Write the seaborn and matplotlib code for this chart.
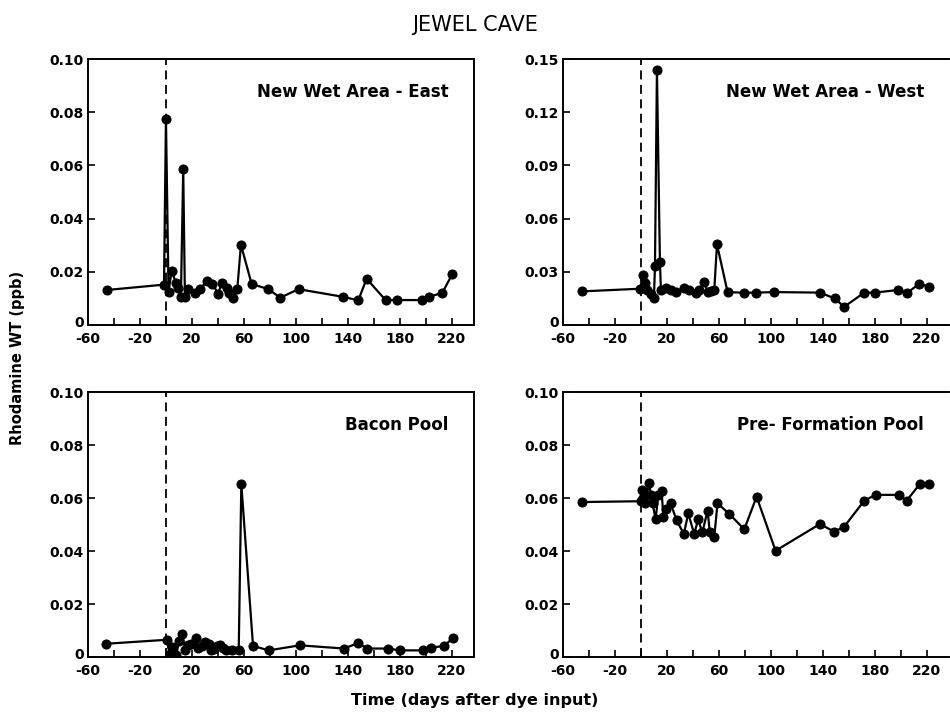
import numpy as np
import pandas as pd
import matplotlib
matplotlib.use("Agg")
import matplotlib.pyplot as plt
import matplotlib.transforms as mtrans
import seaborn as sns

# data (days after dye input, rhodamine WT in ppb)
east_days = [-45, -1.5, 0, 2, 4.4, 7.7, 9.5, 11.5, 13.3, 14.6, 17, 22.3, 26, 31.8, 35.6, 40.3,
             42.8, 46.7, 48.7, 51.8, 54.9, 57.7, 65.9, 78.7, 88, 102, 136.4, 148, 154.4, 169,
             178, 196.7, 202.3, 212.5, 220.3]
east_conc = [0.0132, 0.0152, 0.0775, 0.0125, 0.0205, 0.0158, 0.014, 0.0105, 0.0585, 0.0105,
             0.0136, 0.012, 0.0136, 0.0165, 0.0155, 0.0118, 0.0158, 0.0138, 0.0122, 0.0103,
             0.0136, 0.0302, 0.0155, 0.0135, 0.0103, 0.0135, 0.0106, 0.0093, 0.0174, 0.0094,
             0.0094, 0.0094, 0.0107, 0.012, 0.0191]

west_days = [-45, -0.5, 1.3, 3, 5, 7.7, 10, 10.8, 12.3, 14.6, 15.4, 19.2, 23, 27, 33.3, 37,
             42.3, 44.8, 48.7, 51.3, 53.9, 56.4, 58.5, 66.7, 79.5, 88.5, 102.6, 138, 149,
             156.4, 171.8, 180, 198, 204.6, 214, 221.8]
west_conc = [0.019, 0.0205, 0.028, 0.0235, 0.0195, 0.0175, 0.0155, 0.0335, 0.144, 0.0355,
             0.0195, 0.021, 0.0195, 0.0185, 0.021, 0.0195, 0.018, 0.0195, 0.0245, 0.0185,
             0.019, 0.0195, 0.0455, 0.0185, 0.0183, 0.0183, 0.0186, 0.0183, 0.015, 0.0103,
             0.0183, 0.0183, 0.0198, 0.018, 0.0232, 0.0217]

bacon_days = [-46, 0.5, 3, 5, 8, 10, 12.5, 15, 17, 19, 22.8, 25, 28, 30, 33.1, 35, 37, 39,
              41.5, 44, 46, 51, 56, 58, 67, 79, 103, 137, 148, 154.6, 171, 180, 197.6, 204,
              214, 220.5]
bacon_conc = [0.005, 0.0065, 0.0013, 0.0038, 0.0008, 0.006, 0.0088, 0.0025, 0.0045, 0.005,
              0.007, 0.0035, 0.004, 0.0058, 0.005, 0.0025, 0.003, 0.0042, 0.0045, 0.0035,
              0.0027, 0.0027, 0.0027, 0.0652, 0.0042, 0.0025, 0.0044, 0.0032, 0.0053, 0.0032,
              0.0032, 0.0025, 0.0025, 0.0035, 0.0042, 0.007]

pre_days = [-45.6, 0, 0.8, 1.7, 3.5, 6.2, 7.7, 8.9, 11.3, 13.3, 15.9, 17.2, 19, 22.8, 27.4,
            33, 36.4, 41, 44, 47.2, 51.3, 53, 56.4, 58.9, 68, 79.5, 89, 103.6, 137.7, 148.7,
            156.4, 171.8, 180.5, 198.7, 204.4, 214.6, 221.8]
pre_conc = [0.0585, 0.0588, 0.0632, 0.0602, 0.058, 0.0658, 0.0612, 0.058, 0.052, 0.061,
            0.0628, 0.053, 0.056, 0.058, 0.0517, 0.0464, 0.0542, 0.0464, 0.052, 0.047,
            0.0553, 0.047, 0.0452, 0.058, 0.054, 0.0482, 0.0605, 0.0401, 0.0502, 0.0473,
            0.0492, 0.059, 0.0612, 0.0612, 0.059, 0.0653, 0.0652]

panel_names = ["New Wet Area - East", "New Wet Area - West", "Bacon Pool", "Pre- Formation Pool"]
y_tops = [0.10, 0.15, 0.10, 0.10]
y_steps = [0.02, 0.03, 0.02, 0.02]
x_major = [-60, -20, 20, 60, 100, 140, 180, 220]
x_minor = [-40, 0, 40, 80, 120, 160, 200]

sns.set_style("ticks")
plt.rcParams['font.family'] = ['DejaVu Sans']
plt.rcParams['text.color'] = 'black'
plt.rcParams['xtick.color'] = 'black'
plt.rcParams['ytick.color'] = 'black'

fig = plt.figure(figsize=(9.5, 7.16), dpi=100)
boxes = [[0.0926, 0.546, 0.4063, 0.3715],
         [0.5926, 0.546, 0.4063, 0.3715],
         [0.0926, 0.0824, 0.4063, 0.370],
         [0.5926, 0.0824, 0.4063, 0.370]]
series = [(east_days, east_conc), (west_days, west_conc),
          (bacon_days, bacon_conc), (pre_days, pre_conc)]

for i, (box, (d, c)) in enumerate(zip(boxes, series)):
    ax = fig.add_axes(box)
    df = pd.DataFrame({"day": d, "conc": c})
    ax.axvline(0, color="black", lw=1.3, ls=(0, (5, 3)), zorder=1)
    sns.lineplot(data=df, x="day", y="conc", ax=ax, estimator=None, sort=False,
                 color="black", lw=1.6, marker="o", markersize=6.5,
                 markeredgecolor="black", zorder=3)
    ax.set_xlim(-60, 237)
    ax.set_ylim(0, y_tops[i])
    ax.set_xticks(x_major)
    ax.set_xticks(x_minor, minor=True)
    ax.set_xticklabels([str(v) for v in x_major])
    yt = np.round(np.arange(0, y_tops[i] + 1e-9, y_steps[i]), 2)
    ax.set_yticks(yt)
    ax.set_yticklabels(["0" if v == 0 else f"{v:.2f}" for v in yt])
    ax.tick_params(which="both", direction="in", length=5, width=1.2, color="black",
                   labelsize=10, pad=3)
    ax.tick_params(axis="x", pad=5)
    for lab in ax.get_xticklabels() + ax.get_yticklabels():
        lab.set_fontweight("bold")
    # lift the zero label a little so it clears the -60 below it
    zero = ax.get_yticklabels()[0]
    zero.set_transform(zero.get_transform() +
                       mtrans.ScaledTranslation(0, 2.5 / 72, fig.dpi_scale_trans))
    for s in ax.spines.values():
        s.set_linewidth(1.4)
        s.set_color("black")
    if i % 2 == 1:
        ax.spines["right"].set_visible(False)
    ax.set_xlabel("")
    ax.set_ylabel("")
    ax.text(0.935, 0.875, panel_names[i], transform=ax.transAxes, ha="right", va="center",
            fontsize=12, fontweight="bold")

fig.text(0.5, 0.965, "JEWEL CAVE", ha="center", va="center", fontsize=15)
fig.text(0.018, 0.5, "Rhodamine WT (ppb)", rotation=90, ha="center", va="center",
         fontsize=10.5, fontweight="bold")
fig.text(0.5, 0.022, "Time (days after dye input)", ha="center", va="center",
         fontsize=11.5, fontweight="bold")

fig.savefig("out.png", dpi=100, facecolor="white")
